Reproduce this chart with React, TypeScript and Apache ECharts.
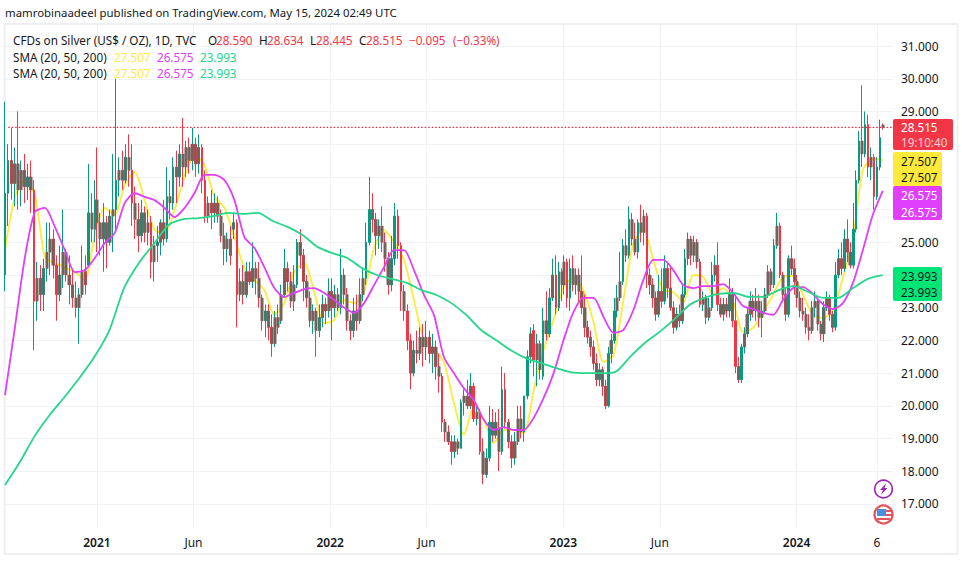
import React, { useEffect, useRef } from "react";
import * as echarts from "echarts";

// Each candle is [open, close, low, high].
const candles2020 = [
  [24.0,26.5,23.5,29.3],[26.5,27.5,25.5,28.0],[27.5,26.8,26.3,28.5],[26.8,27.4,26.1,27.9],[27.4,26.6,26.0,29.0],
  [26.6,27.2,26.1,27.5],[27.2,26.7,26.2,27.7],[26.7,27.0,26.3,27.4],[27.0,26.6,25.9,27.5],[26.6,23.2,21.7,26.9],
  [23.2,23.9,22.6,24.4],[23.9,23.4,22.9,24.3],[23.4,24.2,22.9,24.5],[24.2,24.7,23.8,25.6],[24.7,25.1,24.0,25.6],
  [25.1,24.3,23.9,25.4],[24.3,23.4,22.6,24.6],[23.4,24.0,23.2,24.9],[24.0,24.7,23.6,26.0],[24.7,24.0,23.8,24.8],
  [24.0,23.7,23.1,24.6],[23.7,23.3,23.0,24.2],[23.3,23.0,22.7,23.8],[23.0,23.4,21.9,23.6],[23.4,24.1,23.3,24.9],
  [24.1,23.7,23.4,24.6],[24.3,25.9,24.3,27.4],[25.9,25.4,25.0,26.5],[25.4,26.3,25.0,26.9],
];
const candles2021 = [
  [26.3,25.6,24.7,27.9],[25.6,25.1,24.6,25.9],[25.1,25.6,24.1,26.2],[25.6,25.0,24.2,25.8],[25.0,25.8,24.9,26.0],
  [25.8,26.0,24.7,27.7],[26.0,26.9,25.3,30.0],[26.9,27.2,26.4,27.6],[27.2,26.9,26.6,27.8],[26.9,27.6,26.8,28.0],
  [27.6,27.2,26.7,28.3],[27.2,26.2,25.5,28.0],[26.2,25.7,25.1,26.7],[25.7,25.2,24.7,26.2],[25.2,25.9,25.0,26.3],
  [25.9,25.3,25.0,26.1],[25.3,25.6,24.9,26.0],[25.6,24.4,23.9,25.8],[24.4,24.9,23.8,25.2],[24.9,25.0,24.4,25.5],
  [25.0,25.6,24.6,25.7],[25.6,25.1,24.9,26.3],[25.1,26.4,25.0,27.3],[26.4,26.2,25.7,26.9],[26.2,27.3,26.0,27.6],
  [27.3,27.0,26.2,27.8],[27.0,27.7,26.7,28.0],[27.7,27.3,26.7,28.8],[27.3,27.9,27.0,28.1],[27.9,27.5,27.1,28.2],
  [27.5,28.0,27.2,28.5],[28.0,27.4,27.0,28.2],[27.4,27.9,27.1,28.3],[27.9,26.9,26.5,28.0],[26.9,25.8,25.6,27.2],
  [25.8,26.2,25.6,26.4],[26.2,25.9,25.4,26.6],[25.9,26.2,25.6,26.5],[26.2,25.8,25.6,26.4],[25.8,25.2,25.0,26.0],
  [25.2,24.8,24.3,25.6],[24.8,25.1,24.4,25.3],[25.1,24.6,24.3,25.5],[25.4,25.6,25.1,25.9],[25.6,23.4,22.4,25.7],
  [23.4,23.8,23.2,24.2],[23.8,23.4,23.1,24.3],[23.4,24.1,23.3,24.4],[24.1,23.8,23.7,24.4],[23.8,24.2,23.6,25.0],
  [24.2,23.9,23.4,24.4],[23.9,23.3,23.0,24.4],[23.3,22.6,22.3,23.4],[22.6,22.9,22.1,23.1],[22.9,22.4,22.0,23.1],
  [22.4,21.9,21.5,22.8],[21.9,22.7,21.8,22.9],[22.7,22.4,22.2,23.1],[22.6,23.4,22.5,23.7],[23.4,24.2,23.3,24.8],
  [24.2,23.8,23.5,24.4],[23.8,23.2,23.0,24.1],[23.2,23.7,22.9,24.3],[23.7,25.0,23.6,25.1],[25.0,24.6,24.2,25.4],
  [24.6,23.8,23.2,24.8],[23.8,23.3,23.0,24.0],[23.3,22.6,22.4,23.5],[22.6,22.9,22.2,23.1],[22.9,22.3,21.5,23.0],
  [22.3,22.7,22.1,23.1],[22.7,23.1,22.4,23.4],[23.1,22.9,22.5,23.3],[22.9,23.5,22.7,23.9],
];
const candles2022 = [
  [23.5,23.0,22.0,23.9],[23.0,23.4,22.7,23.7],[23.4,23.0,22.9,23.6],[23.0,24.0,22.8,24.8],[24.0,23.4,23.1,24.2],
  [23.4,22.6,22.3,23.6],[22.6,22.3,22.0,22.8],[22.3,22.9,22.1,23.3],[22.9,22.6,22.3,23.4],[22.6,23.4,22.5,23.9],
  [23.4,23.9,23.2,24.2],[23.9,25.0,23.7,25.6],[25.0,26.0,24.9,27.0],[26.0,25.7,25.3,26.5],[25.7,25.2,24.6,25.9],
  [25.2,25.5,24.8,25.7],[25.5,25.0,24.7,26.1],[25.0,24.5,24.1,25.3],[24.5,23.7,23.4,24.7],[23.7,24.5,23.5,25.2],
  [24.5,25.8,24.3,26.2],[25.8,24.9,24.5,26.0],[24.9,23.5,22.9,25.0],[23.5,22.9,22.6,23.7],[22.9,22.0,21.7,23.1],
  [22.0,21.0,20.5,22.2],[21.0,21.7,20.9,22.0],[21.7,21.6,21.3,22.3],[21.6,22.1,21.4,22.4],[22.1,21.8,21.2,22.5],
  [21.8,22.1,21.4,22.6],[22.1,21.6,21.3,22.3],[21.6,21.8,21.0,22.2],[21.8,21.2,20.8,22.0],[21.2,20.9,20.4,21.6],
  [20.9,19.5,19.2,21.0],[19.5,19.2,18.9,19.6],[19.2,18.9,18.8,19.4],[18.9,18.6,18.2,19.1],[18.6,18.9,18.4,19.1],
  [18.9,18.7,18.5,19.0],[18.7,20.1,18.7,20.2],[20.1,20.3,19.7,20.5],[20.3,20.0,19.9,20.8],[20.0,20.6,19.9,21.0],
  [20.6,19.6,19.5,20.7],[19.6,19.8,19.4,20.0],[19.8,18.6,18.5,19.9],[18.6,17.9,17.6,19.0],[17.9,18.4,17.8,18.7],
  [18.4,19.5,18.3,20.0],[19.5,19.1,18.9,19.9],[19.1,19.5,19.0,19.8],[19.3,18.6,18.0,19.9],[18.6,20.5,18.5,21.2],
  [20.5,19.5,19.3,21.0],[19.5,18.9,18.7,19.6],[18.9,18.4,18.1,19.1],[18.4,18.9,18.2,19.2],[18.9,19.6,18.8,20.0],
  [19.6,19.2,19.0,20.0],[19.2,20.3,18.9,20.3],[20.3,21.5,20.2,21.7],[21.5,22.2,21.3,22.4],[22.3,21.4,20.9,22.5],
  [21.4,21.9,20.6,22.2],[21.9,21.1,20.8,22.0],[20.9,22.6,20.8,23.0],[22.6,22.2,22.0,23.5],[22.2,23.3,22.1,23.6],
  [23.3,24.0,23.2,24.5],[24.0,23.0,22.8,24.6],[23.0,24.1,22.9,24.4],[24.1,23.7,23.2,24.2],
];
const candles2023 = [
  [23.7,24.4,23.4,24.6],[24.4,23.3,23.0,24.5],[23.3,24.2,22.9,24.5],[24.2,23.7,23.5,24.6],[23.7,24.0,23.4,24.2],
  [24.0,23.5,23.1,24.2],[23.5,23.0,22.8,24.6],[23.0,22.4,22.1,23.4],[22.4,22.1,21.9,22.6],[22.1,21.8,21.5,22.3],
  [21.8,21.3,21.1,22.0],[21.3,20.8,20.6,21.6],[20.8,21.1,20.6,21.3],[21.1,20.6,20.3,21.2],[20.6,20.0,19.9,20.8],
  [20.0,21.6,19.95,21.8],[21.6,22.0,21.3,22.2],[22.0,22.9,21.9,23.3],[22.9,23.3,22.7,23.7],[23.3,23.8,23.2,24.7],
  [23.8,24.9,23.7,25.1],[24.9,24.6,24.4,25.4],[24.6,25.7,24.5,26.1],[25.7,25.1,24.9,25.9],[25.1,24.7,24.6,25.6],
  [24.7,25.6,24.5,25.7],[25.6,25.3,25.0,26.15],[25.3,25.8,24.9,26.0],[25.8,24.0,23.6,25.9],[24.0,23.7,23.4,24.2],
  [23.7,23.3,23.0,23.9],[23.3,22.8,22.6,23.5],[22.8,23.5,22.7,24.0],[23.5,23.2,23.0,24.2],[23.2,24.2,23.1,24.6],
  [24.2,23.6,23.3,24.4],[23.6,23.0,22.9,24.3],[23.0,22.4,22.2,23.2],[22.4,22.8,22.3,23.0],[22.8,22.6,22.4,23.1],
  [22.6,23.4,22.5,23.7],[23.4,24.5,23.3,24.8],[24.5,25.1,24.3,25.3],[25.1,24.6,24.3,25.2],[24.6,25.0,24.4,25.2],
  [25.0,24.4,24.2,25.1],[24.4,23.1,23.0,24.5],[23.1,23.3,22.9,23.5],[23.3,22.7,22.5,23.4],[22.7,23.0,22.6,23.3],
  [23.0,24.0,22.9,24.4],[24.0,24.3,23.8,24.6],[24.3,23.1,22.9,25.0],[23.1,22.8,22.7,23.3],[22.8,23.1,22.6,23.3],
  [23.1,22.9,22.7,23.3],[22.9,23.4,22.7,23.9],[23.4,22.6,22.4,23.6],[22.6,21.2,21.0,23.4],[21.2,20.8,20.7,21.5],
  [20.8,21.8,20.7,21.9],[21.8,22.2,21.6,22.4],[22.2,22.8,22.1,23.0],[22.8,23.2,22.6,23.5],[23.2,22.9,22.7,23.4],
  [22.9,23.2,22.6,23.6],[23.2,22.7,22.4,23.4],[22.7,22.9,22.1,23.2],[22.9,23.4,22.8,23.6],[23.4,24.1,23.3,24.3],
  [24.1,23.7,23.5,24.2],[23.7,24.9,23.6,25.1],[24.9,25.5,24.8,25.9],[25.5,24.0,23.9,25.6],[24.0,23.4,23.2,24.1],
  [23.4,22.8,22.6,23.6],[22.8,24.5,22.7,24.6],[24.5,24.2,24.0,24.9],[24.2,23.8,23.4,24.5],
];
const candles2024 = [
  [23.8,23.3,23.0,24.0],[23.3,22.9,22.7,23.5],[22.9,22.8,22.6,23.3],[22.8,22.4,22.2,23.0],[22.4,22.3,22.0,22.8],
  [22.3,23.0,22.2,23.2],[23.0,23.2,22.7,23.5],[23.2,22.5,22.3,23.3],[22.5,22.2,22.0,22.6],[22.2,23.0,21.95,23.2],
  [23.0,23.3,22.9,23.5],[23.3,22.8,22.6,23.4],[22.8,22.4,22.25,22.9],[22.4,24.0,22.3,24.4],[24.0,24.5,23.9,24.8],
  [24.5,24.2,24.0,25.0],[24.2,25.1,24.1,25.4],[25.1,24.7,24.4,25.7],[24.7,24.3,24.2,25.0],[24.3,25.4,24.2,26.2],
  [25.4,26.9,25.3,27.2],[26.9,28.1,26.8,28.4],[28.1,27.7,27.3,29.8],[27.7,28.6,27.6,29.0],[28.6,27.3,27.0,28.9],
  [27.3,27.6,26.9,27.9],[27.6,26.4,26.0,27.7],[26.4,27.3,26.3,27.6],[27.3,28.2,27.2,28.75],[28.59,28.515,28.445,28.634],
];

const sma20 = [
  24.76,26.39,26.9,26.45,24.55,24.37,24.24,24.09,23.85,25.22,26.05,25.84,26.75,27.15,26.29,25.38,25.28,25.99,27.0,27.67,
  27.36,26.39,26.05,25.16,24.21,23.85,23.54,22.78,23.14,24.09,24.37,23.48,22.53,22.62,23.24,23.14,23.48,24.83,25.38,25.0,
  24.46,23.24,22.01,21.74,21.34,20.09,19.11,19.96,19.57,18.86,19.26,19.26,19.17,20.48,21.71,22.62,23.63,23.91,23.54,22.56,
  21.34,21.55,23.24,24.98,25.38,24.46,23.54,23.48,23.17,24.0,23.94,23.42,23.6,23.17,22.26,22.38,22.87,23.39,23.94,23.97,
  23.39,22.78,22.68,22.93,23.91,25.07,27.21,27.55,27.507,
];
const sma50 = [
  20.33,22.41,24.55,25.93,26.05,25.47,24.76,24.09,24.15,24.52,24.98,25.28,26.2,26.5,26.39,26.29,26.05,25.77,26.05,26.51,
  27.06,27.06,26.9,26.29,25.16,24.83,24.24,23.6,23.33,23.45,23.57,23.6,23.45,23.24,23.0,22.84,23.14,23.69,24.24,24.76,
  24.76,24.15,23.39,22.78,21.49,21.0,20.54,20.18,19.57,19.26,19.35,19.26,19.26,19.63,20.24,21.0,22.01,22.87,23.3,23.3,
  22.72,22.23,22.32,22.93,23.85,24.46,24.46,24.15,23.69,23.6,23.66,23.66,23.72,23.45,23.05,22.96,22.84,22.78,23.24,23.6,
  23.63,23.42,23.11,22.96,23.14,23.75,24.76,25.84,26.575,
];
const sma200 = [
  17.58,18.28,19.08,19.72,20.27,20.85,21.49,22.29,23.6,24.37,24.95,25.53,25.71,25.74,25.8,25.9,25.87,25.9,25.65,25.47,
  25.22,24.86,24.67,24.52,24.21,24.0,23.88,23.76,23.54,23.39,23.14,22.78,22.32,22.01,21.7,21.46,21.31,21.16,21.03,21.0,
  21.0,21.03,21.49,21.92,22.26,22.65,23.08,23.3,23.42,23.45,23.33,23.33,23.54,23.66,23.48,23.3,23.3,23.6,23.88,23.993,
];

const timeTicks: [string, string][] = [
  ["2021-01-01", "2021"], ["2021-06-01", "Jun"], ["2022-01-01", "2022"], ["2022-06-01", "Jun"],
  ["2023-01-01", "2023"], ["2023-06-01", "Jun"], ["2024-01-01", "2024"], ["2024-05-06", "6"],
];
const priceTicks = [17, 18, 19, 20, 21, 22, 23, 24, 25, 26, 27, 28, 29, 30, 31];
const coveredTicks = [24, 26, 27, 28];

const headline = "mamrobinaadeel published on TradingView.com, May 15, 2024 02:49 UTC";
const symbolName = "CFDs on Silver (US$ / OZ), 1D, TVC";
const smaName = "SMA (20, 50, 200)";
const lastValues = { close: 28.515, sma20: 27.507, sma50: 26.575, sma200: 23.993 };

const UP = "#089981";
const DOWN = "#F23645";
const BLEND = "#75615C";
const YELLOW = "#FFEB3B";
const MAGENTA = "#E040FB";
const GREEN = "#26D68A";
const TEXT = "#131722";
const GRID = "#F0F2F6";
const FONT = '"Noto Sans", sans-serif';

const ms = (d: string) => Date.parse(d + "T00:00:00Z");
const spread = (values: any[], from: string, to: string) => {
  const a = ms(from), b = ms(to);
  return values.map((v, i) => [a + ((b - a) * i) / Math.max(values.length - 1, 1), v]);
};
const candleRows = (rows: number[][], from: string, to: string) =>
  spread(rows, from, to).map(([t, r]) => [t, r[0], r[1], r[2], r[3]]);

export default function App() {
  const ref = useRef<HTMLDivElement>(null);
  useEffect(() => {
    const chart = echarts.init(ref.current!, undefined, { renderer: "svg" });
    const candles = [
      ...candleRows(candles2020, "2020-08-10", "2020-12-29"),
      ...candleRows(candles2021, "2021-01-01", "2021-12-30"),
      ...candleRows(candles2022, "2022-01-03", "2022-12-30"),
      ...candleRows(candles2023, "2023-01-02", "2023-12-29"),
      ...candleRows(candles2024, "2024-01-02", "2024-05-15"),
    ];
    // Where daily bars overlap, their red and green blend into a brown body.
    const blendedBodies = candles
      .filter((c) => Math.abs(c[1] - c[2]) < 0.85)
      .map((c) => [c[0], c[1], c[2], Math.min(c[1], c[2]), Math.max(c[1], c[2])]);
    const labelByTime = new Map(timeTicks.map(([d, l]) => [ms(d), l]));
    const txt = (x: number, y: number, text: string, fill: string, size = 11.7) => ({
      type: "text", x, y, z: 30, silent: true,
      style: { text, fill, font: `${size}px ${FONT}`, textVerticalAlign: "middle" },
    });
    const tag = (y: number, h: number, w: number, fill: string) => ({
      type: "rect", z: 20, silent: true, shape: { x: 893, y, width: w, height: h, r: 2 }, style: { fill },
    });
    const legendRow1: [number, string, string][] = [
      [13, symbolName, TEXT], [208, "O", TEXT], [216, "28.590", DOWN], [259, "H", TEXT], [267, "28.634", DOWN],
      [310, "L", TEXT], [316, "28.445", DOWN], [359, "C", TEXT], [366, "28.515", DOWN],
      [409, "−0.095", DOWN], [453, "(−0.33%)", DOWN],
    ];
    const smaRow = (y: number) => [
      txt(13, y, smaName, TEXT),
      txt(114, y, lastValues.sma20.toFixed(3), "#FFE84A"),
      txt(157, y, lastValues.sma50.toFixed(3), MAGENTA),
      txt(200, y, lastValues.sma200.toFixed(3), GREEN),
    ];
    chart.setOption({
      animation: false,
      backgroundColor: "#fff",
      grid: { left: 5, top: 24, width: 888, height: 504 },
      xAxis: {
        type: "value",
        min: ms("2020-08-10"),
        max: ms("2024-05-31"),
        axisLine: { show: false },
        axisTick: { show: false, customValues: timeTicks.map(([d]) => ms(d)) },
        splitLine: { show: true, lineStyle: { color: GRID, width: 1 } },
        axisLabel: {
          customValues: timeTicks.map(([d]) => ms(d)),
          margin: 8,
          hideOverlap: false,
          color: TEXT,
          fontFamily: FONT,
          fontSize: 12,
          formatter: (v: number) => {
            const l = labelByTime.get(v) ?? "";
            return /^20/.test(l) ? `{year|${l}}` : l;
          },
          rich: { year: { fontFamily: FONT, fontSize: 12, fontWeight: 600, color: TEXT } },
        },
      },
      yAxis: {
        type: "value",
        position: "right",
        min: 16.263,
        max: 31.676,
        axisLine: { show: false },
        axisTick: { show: false, customValues: priceTicks },
        splitLine: { show: true, lineStyle: { color: GRID, width: 1 } },
        axisLabel: {
          customValues: priceTicks,
          margin: 8,
          color: TEXT,
          fontFamily: FONT,
          fontSize: 12,
          formatter: (v: number) => (coveredTicks.includes(v) ? "" : v.toFixed(3)),
        },
      },
      series: [
        {
          type: "line",
          data: spread(sma20, "2020-08-10", "2024-05-15"),
          showSymbol: false,
          smooth: 0.25,
          lineStyle: { color: YELLOW, width: 1.8 },
          z: 1,
        },
        {
          type: "candlestick",
          data: candles,
          encode: { x: 0, y: [1, 2, 3, 4] },
          barWidth: 2,
          itemStyle: { color: UP, color0: DOWN, borderColor: UP, borderColor0: DOWN, borderWidth: 1 },
          z: 2,
        },
        {
          type: "candlestick",
          data: blendedBodies,
          encode: { x: 0, y: [1, 2, 3, 4] },
          barWidth: 3.2,
          itemStyle: { color: BLEND, color0: BLEND, borderColor: BLEND, borderColor0: BLEND, borderWidth: 0 },
          z: 2,
        },
        {
          type: "line",
          data: [[ms("2020-08-15"), lastValues.close], [ms("2024-05-31"), lastValues.close]],
          showSymbol: false,
          lineStyle: { color: "#E8283A", type: [1.5, 2], width: 1.2 },
          z: 4,
        },
        ...[
          { data: spread(sma50, "2020-08-10", "2024-05-15"), color: MAGENTA },
          { data: spread(sma200, "2020-08-10", "2024-05-15"), color: GREEN },
        ].map((s) => ({
          type: "line",
          data: s.data,
          showSymbol: false,
          smooth: 0.25,
          lineStyle: { color: s.color, width: 1.8 },
          z: 3,
        })),
      ],
      graphic: [
        { type: "rect", z: 1, silent: true, shape: { x: 4.5, y: 24, width: 953, height: 530 },
          style: { fill: "none", stroke: "#EDEFF3", lineWidth: 2 } },
        txt(5, 12, headline, TEXT, 11.4),
        ...legendRow1.map(([x, t, c]) => txt(x, 40, t, c)),
        ...smaRow(57),
        ...smaRow(73),
        tag(119, 31, 60, "#F23645"),
        txt(901, 127, lastValues.close.toFixed(3), "#fff", 11.7),
        txt(901, 142, "19:10:40", "#FBD0D4", 11.7),
        tag(152, 34, 49, "#FFE93B"),
        txt(901, 161, lastValues.sma20.toFixed(3), TEXT),
        txt(901, 177, lastValues.sma20.toFixed(3), TEXT),
        tag(186, 34, 49, MAGENTA),
        txt(901, 195, lastValues.sma50.toFixed(3), "#fff"),
        txt(901, 212, lastValues.sma50.toFixed(3), "#fff"),
        tag(267, 34, 49, "#00E676"),
        txt(901, 276, lastValues.sma200.toFixed(3), TEXT),
        txt(901, 292, lastValues.sma200.toFixed(3), TEXT),
        // event markers
        { type: "circle", z: 20, silent: true, shape: { cx: 883.5, cy: 489, r: 8.8 },
          style: { fill: "#fff", stroke: "#9C27B0", lineWidth: 1.6 } },
        { type: "polygon", z: 21, silent: true,
          shape: { points: [[886, 483.5], [880, 490], [883, 490], [881, 495], [887.5, 488], [884.5, 488]] },
          style: { fill: "#9C27B0" } },
        { type: "circle", z: 20, silent: true, shape: { cx: 883.5, cy: 514.5, r: 9 },
          style: { fill: "#fff", stroke: "#E2565F", lineWidth: 2.4 } },
        { type: "rect", z: 21, silent: true, shape: { x: 877, y: 509, width: 9, height: 7 }, style: { fill: "#4A90E2" } },
        { type: "rect", z: 21, silent: true, shape: { x: 886, y: 510, width: 5, height: 2 }, style: { fill: "#E2565F" } },
        { type: "rect", z: 21, silent: true, shape: { x: 886, y: 514, width: 6, height: 2 }, style: { fill: "#E2565F" } },
        { type: "rect", z: 21, silent: true, shape: { x: 877, y: 518, width: 13, height: 2 }, style: { fill: "#E2565F" } },
      ],
    });
    return () => chart.dispose();
  }, []);
  return <div ref={ref} style={{ position: "fixed", left: 0, top: 0, width: 962, height: 563 }} />;
}
